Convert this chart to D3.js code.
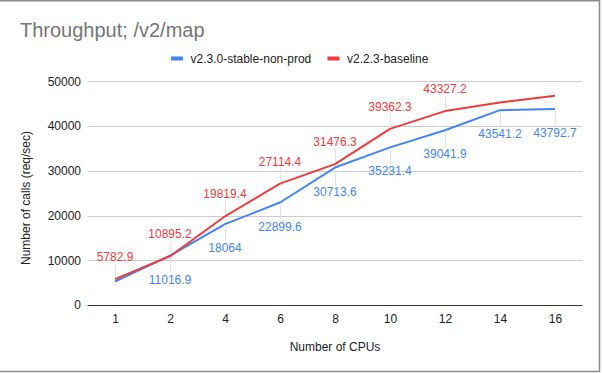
<!DOCTYPE html>
<html>
<head>
<meta charset="utf-8">
<script src="https://cdn.jsdelivr.net/npm/d3@7"></script>
<style>
    body { margin: 0; background: #fff; }
    svg { display: block; font-family: "Liberation Sans", Arial, sans-serif; }
</style>
</head>
<body>
<div id="chart"></div>
<script>
//Data
var cpus = ["1", "2", "4", "6", "8", "10", "12", "14", "16"];
var stableVals = [5250, 11016.9, 18064, 22899.6, 30713.6, 35231.4, 39041.9, 43541.2, 43792.7];
var baselineVals = [5782.9, 10895.2, 19819.4, 27114.4, 31476.3, 39362.3, 43327.2, 45250, 46750];
// null = no data label drawn for that point
var stableLabels = [null, "11016.9", "18064", "22899.6", "30713.6", "35231.4", "39041.9", "43541.2", "43792.7"];
var baselineLabels = ["5782.9", "10895.2", "19819.4", "27114.4", "31476.3", "39362.3", "43327.2", null, null];
var yTicks = [0, 10000, 20000, 30000, 40000, 50000];
var seriesNames = ["v2.3.0-stable-non-prod", "v2.2.3-baseline"];

var blue = "#4285f4";
var red = "#ef3b3b";

var series = [
    {name: seriesNames[0], values: stableVals, labels: stableLabels, color: blue, side: 1},
    {name: seriesNames[1], values: baselineVals, labels: baselineLabels, color: red, side: -1}
];

//SVG Container
var svg = d3.select("#chart").append("svg")
    .attr("width", 602)
    .attr("height", 373);

//Scales
var x = d3.scalePoint()
    .domain(cpus)
    .range([87.5, 582.5])
    .padding(0.5);

var y = d3.scaleLinear()
    .domain([0, 50000])
    .range([305, 81.25]);

//Frame (top, right, bottom edges of the screenshot)
svg.append("path")
    .attr("d", "M0,0.75 H599.5 V371.5 H0")
    .style("fill", "none")
    .style("stroke", "#8c8c8c")
    .style("stroke-width", 1.5);

//Title
svg.append("text")
    .attr("x", 20)
    .attr("y", 37)
    .style("font-size", "20px")
    .style("fill", "#757575")
    .text("Throughput; /v2/map");

//Legend
var legend = svg.append("g");
var legendX = [171, 327.5];
series.forEach(function (s, i) {
    legend.append("rect")
        .attr("x", legendX[i])
        .attr("y", 56.5)
        .attr("width", 12)
        .attr("height", 4)
        .style("fill", s.color);
    legend.append("text")
        .attr("x", legendX[i] + 19.5)
        .attr("y", 62.5)
        .style("font-size", "12px")
        .style("fill", "#222")
        .text(s.name);
});

//Gridlines
svg.append("g")
    .selectAll("line")
    .data(yTicks.filter(function (d) { return d > 0; }))
    .enter()
    .append("line")
    .attr("x1", 87.5)
    .attr("x2", 582.5)
    .attr("y1", function (d) { return Math.round(y(d)) + 0.5; })
    .attr("y2", function (d) { return Math.round(y(d)) + 0.5; })
    .style("stroke", "#cccccc");

//Y axis labels
var yAxis = svg.append("g")
    .attr("transform", "translate(81,0)")
    .call(d3.axisLeft(y).tickValues(yTicks).tickSize(0).tickPadding(0).tickFormat(d3.format("d")));
yAxis.select(".domain").remove();
yAxis.selectAll("text")
    .style("font-size", "12px")
    .style("font-family", "'Liberation Sans', Arial, sans-serif")
    .style("fill", "#222");

//X axis
var xAxis = svg.append("g")
    .attr("transform", "translate(0,305)")
    .call(d3.axisBottom(x).tickSize(0).tickPadding(9));
xAxis.select(".domain")
    .attr("d", "M87.5,0.5H582.5")
    .style("stroke", "#333");
xAxis.selectAll("text")
    .style("font-size", "12px")
    .style("font-family", "'Liberation Sans', Arial, sans-serif")
    .style("fill", "#222");

//Axis titles
svg.append("text")
    .attr("x", 335)
    .attr("y", 351)
    .attr("text-anchor", "middle")
    .style("font-size", "12px")
    .style("fill", "#222")
    .text("Number of CPUs");

svg.append("text")
    .attr("transform", "translate(30,198) rotate(-90)")
    .attr("text-anchor", "middle")
    .style("font-size", "12px")
    .style("fill", "#222")
    .text("Number of calls (req/sec)");

//Leader lines + data labels
var line = d3.line()
    .x(function (d, i) { return x(cpus[i]); })
    .y(function (d) { return y(d); });

series.forEach(function (s) {
    var pts = s.values.map(function (v, i) {
        return {cx: x(cpus[i]), cy: y(v), label: s.labels[i]};
    }).filter(function (d) { return d.label !== null; });

    svg.append("g")
        .selectAll("line")
        .data(pts)
        .enter()
        .append("line")
        .attr("x1", function (d) { return Math.round(d.cx) + 0.5; })
        .attr("x2", function (d) { return Math.round(d.cx) + 0.5; })
        .attr("y1", function (d) { return s.side > 0 ? d.cy + 2 : d.cy - 2; })
        .attr("y2", function (d) { return s.side > 0 ? d.cy + 17 : d.cy - 15; })
        .style("stroke", "#e3e3e3");

    svg.append("g")
        .selectAll("text")
        .data(pts)
        .enter()
        .append("text")
        .attr("x", function (d) { return d.cx; })
        .attr("y", function (d) { return s.side > 0 ? d.cy + 28 : d.cy - 18; })
        .attr("text-anchor", "middle")
        .style("font-size", "12px")
        .style("fill", s.color)
        .text(function (d) { return d.label; });
});

//Lines (red drawn last, on top)
series.forEach(function (s) {
    svg.append("path")
        .datum(s.values)
        .attr("d", line)
        .style("fill", "none")
        .style("stroke", s.color)
        .style("stroke-width", 2)
        .style("stroke-linejoin", "round");
});
</script>
</body>
</html>
